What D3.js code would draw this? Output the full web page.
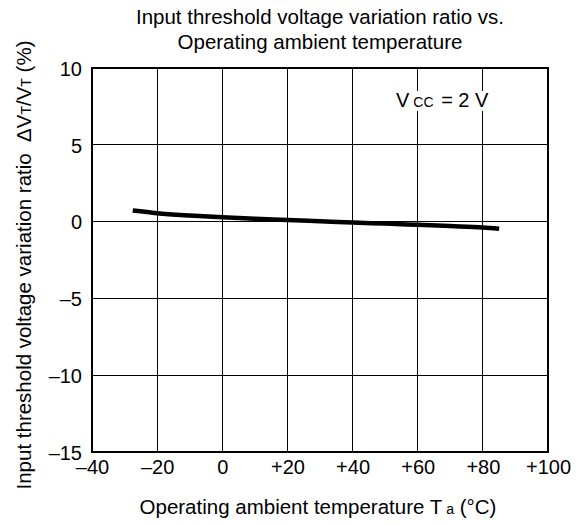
<!DOCTYPE html>
<html>
<head>
<meta charset="utf-8">
<script src="https://cdn.jsdelivr.net/npm/d3@7"></script>
<style>
  body { margin: 0; background: #fff; }
  text { font-family: "Liberation Sans", Arial, Helvetica, sans-serif; fill: #000; white-space: pre; }
</style>
</head>
<body>
<svg id="chart" width="588" height="524"></svg>
<script>
const xTicks = [-40, -20, 0, 20, 40, 60, 80, 100];
const xTickLabels = ["\u201340", "\u201320", "0", "+20", "+40", "+60", "+80", "+100"];
const yTicks = [10, 5, 0, -5, -10, -15];
const yTickLabels = ["10", "5", "0", "\u20135", "\u201310", "\u201315"];
const temps = [-27.5, -20, -10, 0, 10, 20, 30, 40, 50, 60, 70, 80, 85];
const ratios = [0.72, 0.55, 0.40, 0.28, 0.18, 0.10, 0.02, -0.06, -0.13, -0.21, -0.29, -0.38, -0.46];

const svg = d3.select("#chart");
const L = 92, R = 548, T = 68, B = 452;
const x = d3.scaleLinear().domain([-40, 100]).range([L, R]);
const y = d3.scaleLinear().domain([-15, 10]).range([B, T]);
const FONT = "Liberation Sans, Arial, sans-serif";

// grid
const g = svg.append("g").attr("shape-rendering", "crispEdges");
g.selectAll(".vx").data(xTicks).join("line")
  .attr("x1", d => x(d)).attr("x2", d => x(d)).attr("y1", T).attr("y2", B)
  .attr("stroke", "#000").attr("stroke-width", 1);
g.selectAll(".hy").data(yTicks).join("line")
  .attr("x1", L).attr("x2", R).attr("y1", d => y(d)).attr("y2", d => y(d))
  .attr("stroke", "#000").attr("stroke-width", 1);
g.append("rect").attr("x", L).attr("y", T).attr("width", R - L).attr("height", B - T)
  .attr("fill", "none").attr("stroke", "#000").attr("stroke-width", 1.2);

// axes labels via d3 axes (no lines)
const xAxis = d3.axisBottom(x).tickValues(xTicks).tickSize(0).tickPadding(0)
  .tickFormat((d, i) => xTickLabels[i]);
const xa = svg.append("g").attr("transform", `translate(0,${B + 8})`).call(xAxis);
xa.attr("font-size", 20).attr("font-family", FONT);
xa.select(".domain").remove();
xa.selectAll("text").attr("dy", "0.72em").attr("fill", "#000");

const yAxis = d3.axisLeft(y).tickValues(yTicks).tickSize(0).tickPadding(0)
  .tickFormat((d, i) => yTickLabels[i]);
const ya = svg.append("g").attr("transform", `translate(${L - 10},0)`).call(yAxis);
ya.attr("font-size", 20).attr("font-family", FONT);
ya.select(".domain").remove();
ya.selectAll("text").attr("dy", "0.36em").attr("fill", "#000");

// curve
const line = d3.line().x((d, i) => x(temps[i])).y((d, i) => y(ratios[i])).curve(d3.curveMonotoneX);
svg.append("path").datum(ratios).attr("d", line)
  .attr("fill", "none").attr("stroke", "#000").attr("stroke-width", 4.5);

// title
const title = svg.append("text").attr("text-anchor", "middle").attr("font-size", 20.5);
title.append("tspan").attr("x", 320).attr("y", 24).text("Input threshold voltage variation ratio vs.");
title.append("tspan").attr("x", 320).attr("y", 49).text("Operating ambient temperature");

// annotation with white background
const annBg = svg.append("rect").attr("fill", "#fff");
const ann = svg.append("text").attr("x", 396).attr("y", 107).attr("font-size", 20);
ann.append("tspan").text("V");
ann.append("tspan").attr("font-size", 14).attr("dx", 4).text("CC");
ann.append("tspan").attr("dx", 2).text(" = 2 V");
const bb = ann.node().getBBox();
annBg.attr("x", bb.x - 3).attr("y", bb.y + 2).attr("width", bb.width + 6).attr("height", bb.height - 2);

// x label
const xl = svg.append("text").attr("x", 318).attr("y", 514).attr("text-anchor", "middle").attr("font-size", 20.5);
xl.append("tspan").text("Operating ambient temperature T");
xl.append("tspan").attr("font-size", 14).attr("dx", 4).text("a");
xl.append("tspan").text(" (\u00B0C)");

// y label
const yl = svg.append("text").attr("transform", "translate(31,265) rotate(-90)")
  .attr("text-anchor", "middle").attr("font-size", 20.5);
yl.append("tspan").text("Input threshold voltage variation ratio  \u0394V");
yl.append("tspan").attr("font-size", 14).text("T");
yl.append("tspan").text("/V");
yl.append("tspan").attr("font-size", 14).text("T");
yl.append("tspan").text(" (%)");
</script>
</body>
</html>
